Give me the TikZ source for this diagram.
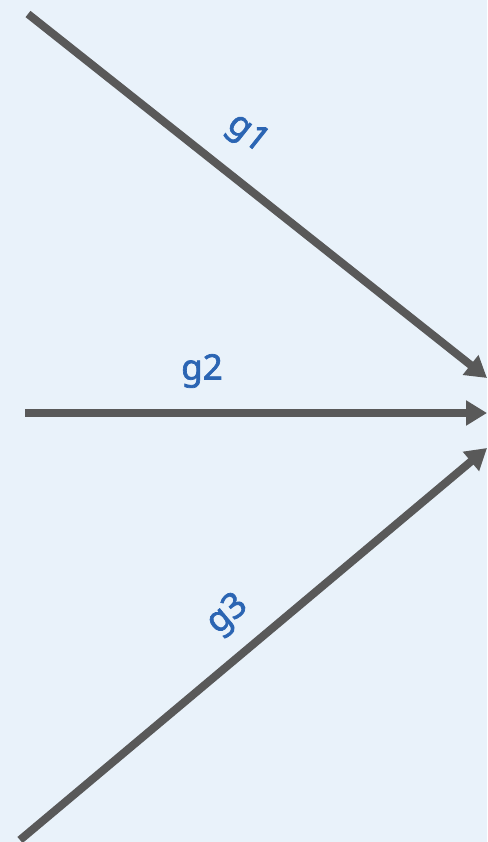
\documentclass[tikz,border=0pt]{standalone}
\usepackage{fontspec}
\setmainfont{Noto Sans}
\newfontfamily\labelfont{Noto Sans}[FakeBold=2]
\usetikzlibrary{arrows.meta}
\definecolor{bgblue}{HTML}{E9F2FA}
\definecolor{edgegray}{HTML}{595959}
\definecolor{labelblue}{HTML}{2B65B3}
\tikzset{
  edge/.style={draw=edgegray, line width=8pt, -{Triangle[length=21pt,width=24pt]}},
  elabel/.style={text=labelblue, font=\labelfont\fontsize{35}{40}\selectfont, inner sep=0pt}
}
\begin{document}
\begin{tikzpicture}[x=1pt,y=-1pt]
  \fill[bgblue] (0,0) rectangle (487,842);
  \useasboundingbox (0,0) rectangle (487,842);
  % sources and sink points
  \coordinate (s1) at (28,14);
  \coordinate (s2) at (25,413);
  \coordinate (s3) at (20,840);
  \coordinate (t1) at (487,378);
  \coordinate (t2) at (487,413);
  \coordinate (t3) at (487,448);
  % edges
  \draw[edge] (s1) -- (t1);
  \draw[edge] (s2) -- (t2);
  \draw[edge] (s3) -- (t3);
  % edge labels
  \node[elabel, rotate=-38.4] (l1) at (247,134) {g1};
  \node[elabel] (l2) at (202,371) {g2};
  \node[elabel, rotate=40] (l3) at (228,615) {g3};
\end{tikzpicture}
\end{document}
